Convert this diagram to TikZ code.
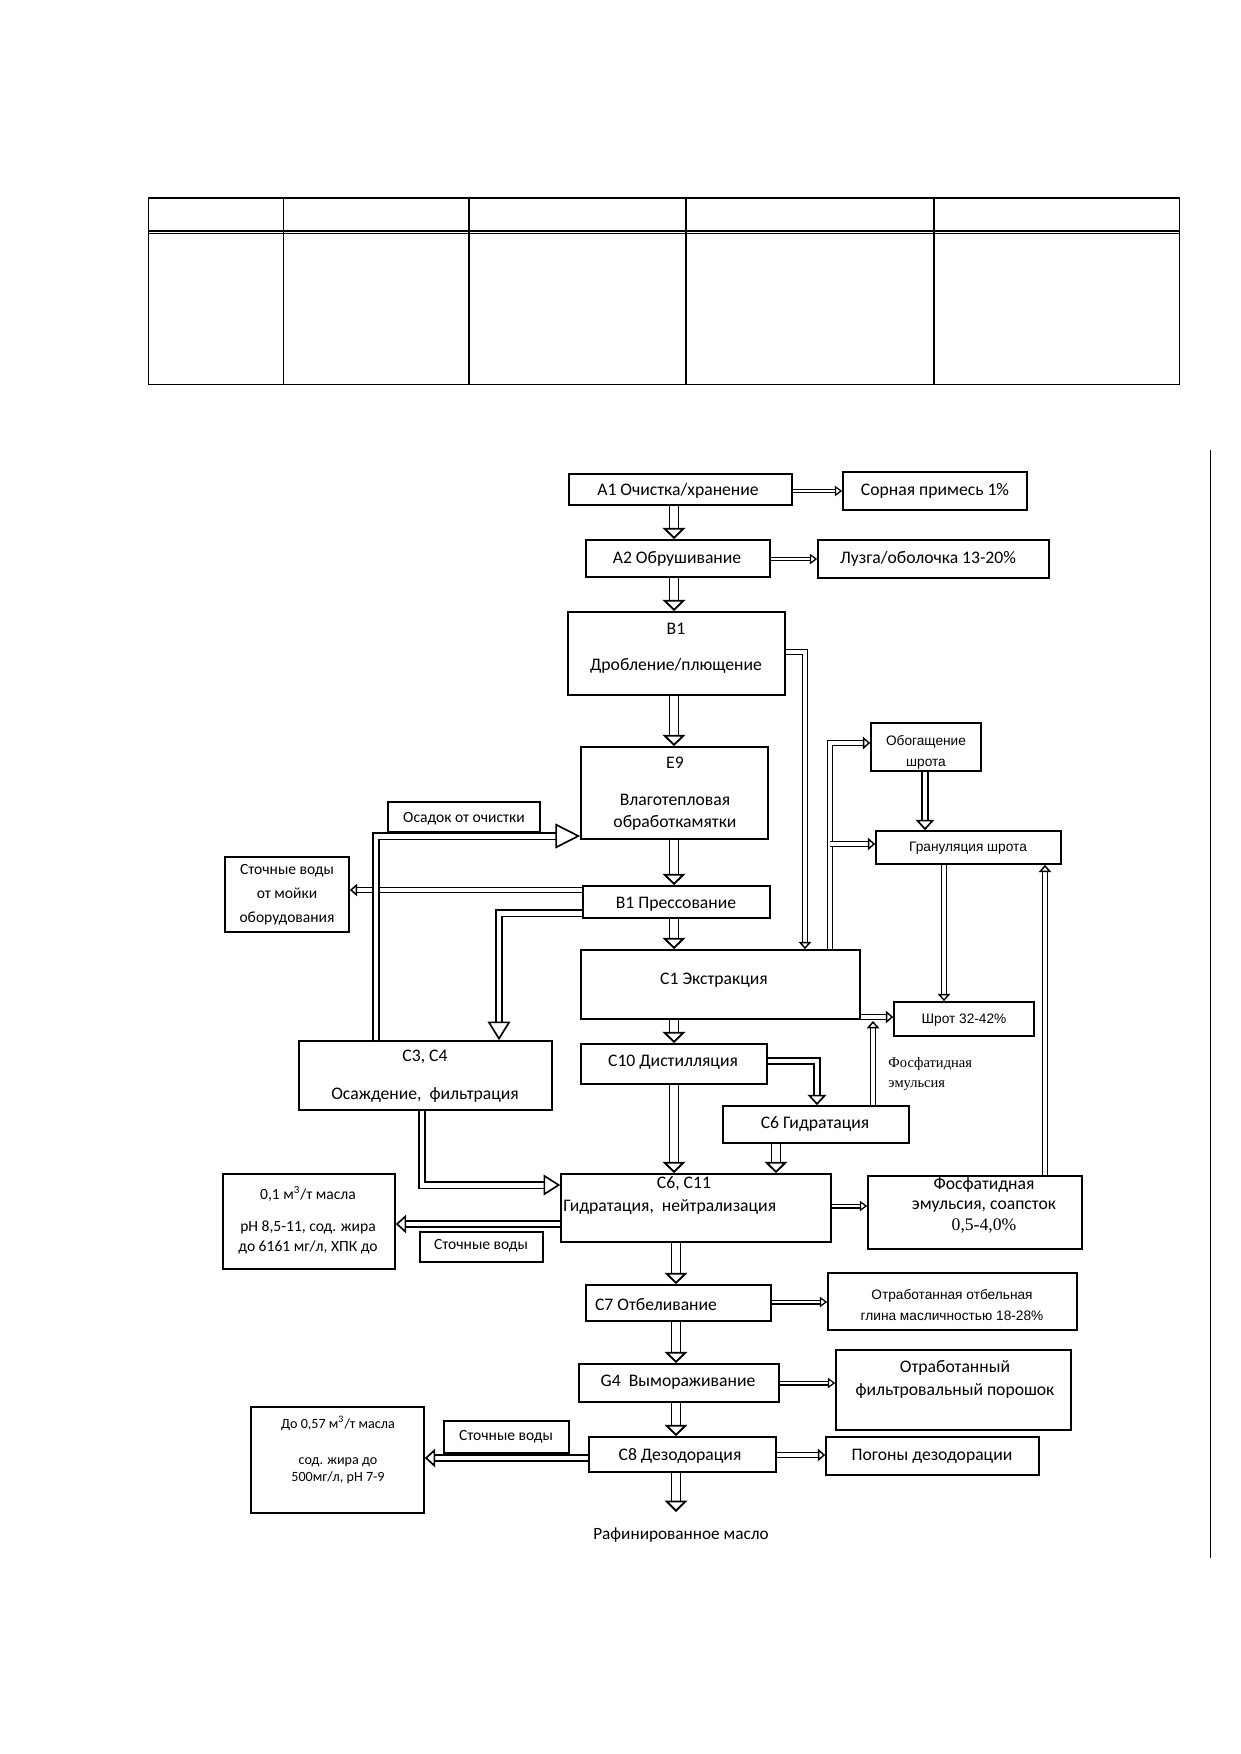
\documentclass[tikz,border=0pt]{standalone}
\usepackage{fontspec}
\setmainfont{Carlito}
\newfontfamily\serifru{Liberation Serif}
\newfontfamily\sansru{Liberation Sans}
\usetikzlibrary{arrows.meta,fit,calc}
\tikzset{%
	box/.style  = {draw, line width=0.8pt, inner sep=0pt},
	txt/.style  = {inner sep=0pt, yshift=-1pt, align=center, font=\fontsize{8.5}{11}\selectfont},
	stxt/.style = {txt, font=\fontsize{7.5}{9.6}\selectfont},
	atxt/.style = {txt, font=\sansru\fontsize{6.6}{10}\selectfont},
	main/.style = {double, double distance=3.4pt, line width=0.9pt, -{Triangle[open, width=11pt, length=5.5pt, line width=0.9pt]}},
	side/.style = {double, double distance=1.2pt, line width=0.6pt, -{Triangle[open, width=5pt, length=3.5pt, line width=0.6pt]}},
	link/.style = {double, double distance=1.5pt, line width=0.7pt, -{Triangle[open, width=6pt, length=3.5pt, line width=0.7pt]}},
	mid/.style  = {double, double distance=2.2pt, line width=0.8pt, -{Triangle[open, width=9pt, length=5pt, line width=0.8pt]}},
	wide/.style = {double, double distance=2.4pt, line width=0.8pt, -{Triangle[open, width=11pt, length=9pt, line width=0.8pt]}},
}

\begin{document}
\begin{tikzpicture}[x=0.016935cm,y=-0.016935cm]
		\useasboundingbox (0,0) rectangle (1240,1754);
		
		% empty table on top of the page
		\draw[line width=0.7pt] (148.5,198) rectangle (1179.5,384.5);
		\draw[line width=0.6pt] (148.5,231) -- (1179.5,231);
		\draw[line width=0.6pt] (148.5,233.6) -- (1179.5,233.6);
		\foreach \x in {283.5,469,686,934} \draw[line width=0.6pt] (\x,198) -- (\x,384.5);
		
		% page rule on the right
		\draw[line width=0.7pt] (1210.5,450) -- (1210.5,1558);
		
		\coordinate (spine) at (674,0);
		\coordinate (spinelow) at (676,0);
		
		% preparation
		\node[box, fit={(569,474) (792,505)}] (a1) {};
		\node[txt] (a1t) at (678,489) {A1 Очистка/хранение};
		\node[box, fit={(843,472) (1027,510)}] (sor) {};
		\node[txt] (sort) at (935,489) {Сорная примесь 1\%};
		\node[box, fit={(586,540) (770,577)}] (a2) {};
		\node[txt] (a2t) at (677,557) {A2 Обрушивание};
		\node[box, fit={(818,540) (1049,578)}] (luz) {};
		\node[txt] (luzt) at (928,557) {Лузга/оболочка 13-20\%};
		\node[box, fit={(568,612) (785,695)}] (b1) {};
		\node[txt] (b1t) at (676,646) {B1\\[6.3pt] Дробление/плющение};
		\node[box, fit={(581,747) (768,839)}] (e9) {};
		\node[txt] (e9t) at (675,792) {E9\\[6.5pt] Влаготепловая\\ обработкамятки};
		\node[box, fit={(388,802) (540,832)}] (osad) {};
		\node[stxt] (osadt) at (464,817) {Осадок от очистки};
		\node[box, fit={(225,857) (349,932)}] (stm) {};
		\node[stxt, font=\fontsize{7.5}{11.5}\selectfont] (stmt) at (287,893) {Сточные воды\\ от мойки\\ оборудования};
		\node[box, fit={(583,886) (770,918)}] (b1p) {};
		\node[txt] (b1pt) at (676,902) {B1 Прессование};
		
		% extraction
		\node[box, fit={(581,950) (860,1019)}] (c1) {};
		\node[txt] (c1t) at (714,978) {C1 Экстракция};
		\node[box, fit={(871,723) (981,771)}] (obog) {};
		\node[atxt] (obogt) at (926,750) {Обогащение\\ шрота};
		\node[box, fit={(876,831) (1061,864)}] (gran) {};
		\node[atxt] (grant) at (968,846) {Грануляция шрота};
		\node[box, fit={(894,1002) (1034,1036)}] (shrot) {};
		\node[atxt] (shrott) at (964,1018) {Шрот 32-42\%};
		\node[box, fit={(299,1041) (552,1110)}] (c34) {};
		\node[txt] (c34t) at (425,1074) {C3, C4\\[7pt] Осаждение,\ \ фильтрация};
		\node[box, fit={(581,1044) (767,1084)}] (c10) {};
		\node[txt] (c10t) at (673,1060) {C10 Дистилляция};
		\node[box, fit={(723,1106) (909,1143)}] (c6g) {};
		\node[txt] (c6gt) at (815,1122) {C6 Гидратация};
		\node[txt, align=left, font=\serifru\fontsize{7}{9.5}\selectfont, anchor=west] (fosl) at (888,1072) {Фосфатидная\\ эмульсия};
		
		% refining
		\node[box, fit={(561,1174) (831,1242)}] (c611) {};
		\node[txt] (c611a) at (684,1182) {C6, C11};
		\node[txt, anchor=west] (c611b) at (563,1205) {Гидратация,\ \ нейтрализация};
		\node[box, fit={(868,1176) (1082,1249)}] (fosb) {};
		\node[txt, font=\fontsize{8.5}{9.8}\selectfont] (fosbt) at (984,1203) {Фосфатидная\\ эмульсия, соапсток\\ {\serifru 0,5-4,0\%}};
		\node[box, fit={(223,1174) (395,1269)}] (w01) {};
		\node[stxt] (w01t) at (308,1218) {0,1 м\textsuperscript{3}/т масла\\[6pt] pH 8,5-11, сод. жира\\ до 6161 мг/л, ХПК до};
		\node[box, fit={(420,1232) (543,1262)}] (sv1) {};
		\node[stxt] (sv1t) at (481,1244) {Сточные воды};
		\node[box, fit={(586,1285) (771,1321)}] (c7) {};
		\node[txt] (c7t) at (656,1302) {C7 Отбеливание};
		\node[box, fit={(828,1273) (1077,1330)}] (otb) {};
		\node[atxt] (otbt) at (952,1303) {Отработанная отбельная\\ глина масличностью 18-28\%};
		\node[box, fit={(579,1364) (779,1402)}] (g4) {};
		\node[txt] (g4t) at (678,1380) {G4\ \ Вымораживание};
		\node[box, fit={(836,1350) (1071,1430)}] (ofp) {};
		\node[txt] (ofpt) at (955,1377) {Отработанный\\ фильтровальный порошок};
		\node[box, fit={(251,1407) (424,1513)}] (w057) {};
		\node[stxt, font=\fontsize{6.8}{8.2}\selectfont] (w057t) at (338,1448) {До 0,57 м\textsuperscript{3}/т масла\\[9pt] сод. жира до\\ 500мг/л, pH 7-9};
		\node[box, fit={(444,1421) (569,1453)}] (sv2) {};
		\node[stxt] (sv2t) at (506,1435) {Сточные воды};
		\node[box, fit={(589,1437) (776,1472)}] (c8) {};
		\node[txt] (c8t) at (680,1454) {C8 Дезодорация};
		\node[box, fit={(826,1437) (1039,1475)}] (pog) {};
		\node[txt] (pogt) at (932,1454) {Погоны дезодорации};
		\node[txt, font=\fontsize{8.3}{11}\selectfont] (raf) at (681,1533) {Рафинированное масло};
		\coordinate (rafin) at (676,1512);
		
		% main line
		\draw[main] (a1.south -| spine) -- (a2.north -| spine);
		\draw[main] (a2.south -| spine) -- (b1.north -| spine);
		\draw[main] (b1.south -| spine) -- (e9.north -| spine);
		\draw[main] (e9.south -| spine) -- (b1p.north -| spine);
		\draw[main] (b1p.south -| spine) -- (c1.north -| spine);
		\draw[main] (c1.south -| spine) -- (c10.north -| spine);
		\draw[main] (c10.south -| spine) -- (c611.north -| spine);
		\draw[main] (c6g.south -| 776,0) -- (c611.north -| 776,0);
		\draw[main] (c611.south -| spinelow) -- (c7.north -| spinelow);
		\draw[main] (c7.south -| spinelow) -- (g4.north -| spinelow);
		\draw[main] (g4.south -| spinelow) -- (c8.north -| spinelow);
		\draw[main] (c8.south -| spinelow) -- (rafin);
		
		% wastes to the right
		\draw[side] (a1.east |- 0,491) -- (sor.west |- 0,491);
		\draw[side] (a2.east |- 0,559) -- (luz.west |- 0,559);
		\draw[side] (c611.east |- 0,1206) -- (fosb.west |- 0,1206);
		\draw[side] (c7.east |- 0,1302) -- (otb.west |- 0,1302);
		\draw[side] (g4.east |- 0,1383) -- (ofp.west |- 0,1383);
		\draw[link] (c8.east |- 0,1455) -- (pog.west |- 0,1455);
		
		% meal branch
		\coordinate (bend1) at (805,652);
		\draw[link] (b1.east |- bend1) -| (c1.north -| bend1);
		\coordinate (bend4) at (830,743);
		\draw[link] (c1.north -| bend4) |- (obog.west |- bend4);
		\coordinate (bend5) at (830,844);
		\draw[link] (bend5) -- (gran.west |- bend5);
		\draw[mid] (obog.south -| 925,0) -- (gran.north -| 925,0);
		\draw[link] (gran.south -| 944,0) -- (shrot.north -| 944,0);
		\draw[link] (c1.east |- 0,1017) -- (shrot.west |- 0,1017);
		\coordinate (meet) at (873,1021);
		\draw[link] (c6g.north -| meet) -- (meet);
		\draw[link] (fosb.north -| 1045,0) -- (gran.south -| 1045,0);
		\coordinate (bend6) at (817,1061);
		\draw[mid] (c10.east |- bend6) -| (c6g.north -| bend6);
		
		% pressing side
		\draw[link] (b1p.west |- 0,890) -- (stm.east |- 0,890);
		\coordinate (bend3) at (499,913);
		\draw[wide] (b1p.west |- bend3) -| (c34.north -| bend3);
		\coordinate (bend2) at (376,836);
		\draw[wide, -{Triangle[open, width=12pt, length=12pt, line width=0.8pt]}] (c34.north -| bend2) |- (e9.west |- bend2);
		\coordinate (bend7) at (422,1185);
		\draw[wide, -{Triangle[open, width=10pt, length=8pt, line width=0.8pt]}] (c34.south -| bend7) |- (c611.west |- bend7);
		
		% waste waters
		\draw[mid] (c611.west |- 0,1224) -- (w01.east |- 0,1224);
		\draw[mid] (c8.west |- 0,1458) -- (w057.east |- 0,1458);
		
		\end{tikzpicture}
\end{document}
